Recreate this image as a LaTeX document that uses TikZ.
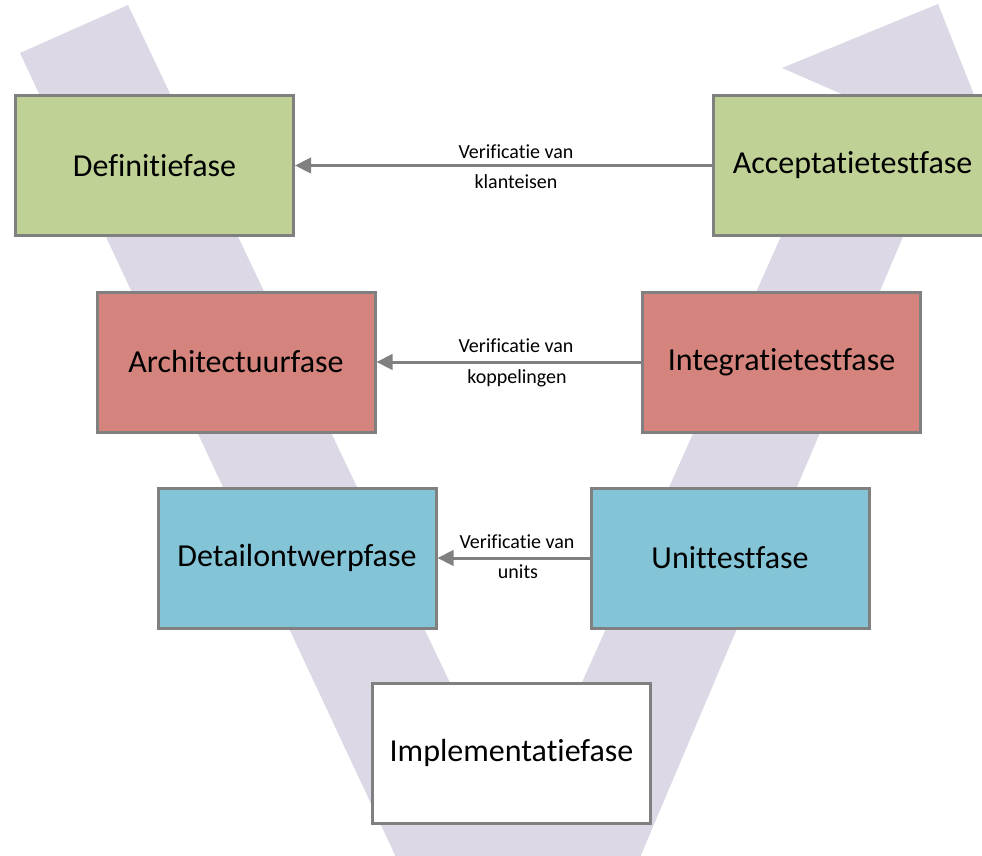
\documentclass[tikz,border=0pt]{standalone}
\usepackage{fontspec}
\setmainfont{Carlito}[Ligatures={NoCommon,NoContextual}]
\usetikzlibrary{arrows.meta}
\definecolor{vband}{HTML}{DCD8E6}
\definecolor{edgegray}{HTML}{808080}
\definecolor{phasegreen}{HTML}{C0D195}
\definecolor{phasered}{HTML}{D4847C}
\definecolor{phaseblue}{HTML}{83C4D6}

\begin{document}
\begin{tikzpicture}[x=0.75pt,y=-0.75pt,
  phase/.style={draw=edgegray, line width=2.25pt, minimum width=208.5pt,
    minimum height=105pt, inner sep=0pt, font=\fontsize{24}{28}\selectfont},
  verif/.style={draw=edgegray, line width=2.25pt,
    -{Triangle[length=12pt,width=11.5pt]}},
  note/.style={anchor=base, inner sep=0pt, font=\fontsize{15}{18}\selectfont}]
\useasboundingbox (0,0) rectangle (982,856);

% the V band behind the phases
\begin{scope}
  \clip (0,0) rectangle (982,856);
  \fill[vband] (20,53) -- (128,5) -- (518,826) -- (844,95) -- (782,68)
    -- (938,4) -- (1000,160) -- (927,180) -- (622,900) -- (416,900) -- cycle;
\end{scope}

% phases
\node[phase, fill=phasegreen] (def)    at (154.5,165.5) {Definitiefase};
\node[phase, fill=phasegreen] (acc)    at (852.5,165.5) {Acceptatietestfase};
\node[phase, fill=phasered]   (arch)   at (236,362)     {Architectuurfase};
\node[phase, fill=phasered]   (integ)  at (781.5,362)   {Integratietestfase};
\node[phase, fill=phaseblue]  (detail) at (297,558)     {Detailontwerpfase};
\node[phase, fill=phaseblue]  (unit)   at (730,558)     {Unittestfase};
\node[phase, fill=white]      (impl)   at (511.5,753)   {Implementatiefase};

% verification links
\draw[verif] (acc.west)   -- (def.east);
\draw[verif] (integ.west) -- (arch.east);
\draw[verif] (unit.west)  -- (detail.east);

\node[note] (v1a) at (516,158) {Verificatie van};
\node[note] (v1b) at (516,188) {klanteisen};
\node[note] (v2a) at (516,352) {Verificatie van};
\node[note] (v2b) at (517,383) {koppelingen};
\node[note] (v3a) at (517,548) {Verificatie van};
\node[note] (v3b) at (518,578) {units};
\end{tikzpicture}
\end{document}
